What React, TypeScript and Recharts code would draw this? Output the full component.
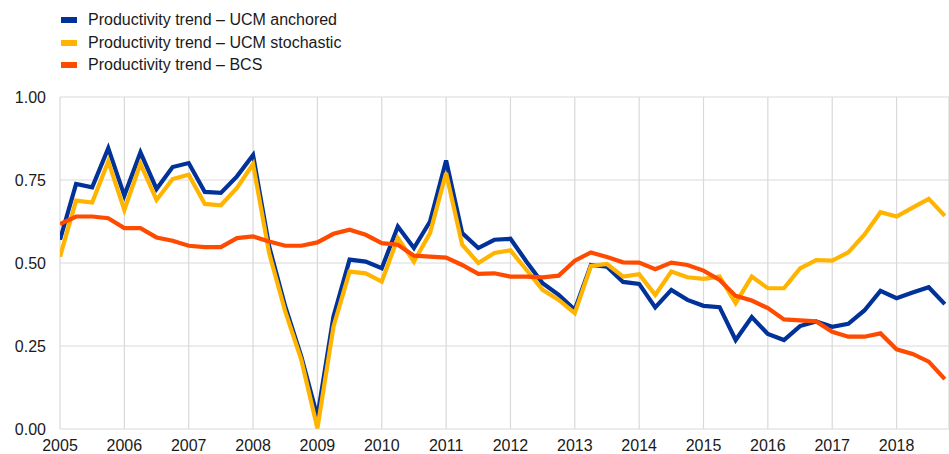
import { CartesianGrid, Line, LineChart, XAxis, YAxis } from "recharts";

const years = [2005, 2006, 2007, 2008, 2009, 2010, 2011, 2012, 2013, 2014, 2015, 2016, 2017, 2018];
const quarters = ["Q1", "Q2", "Q3", "Q4"];
const yTicks = [0, 0.25, 0.5, 0.75, 1];

const ucmAnchored = [
  0.57, 0.738, 0.728, 0.846, 0.703, 0.833, 0.723, 0.789, 0.801, 0.714, 0.711, 0.761,
  0.825, 0.55, 0.369, 0.218, 0.037, 0.339, 0.51, 0.504, 0.484, 0.61, 0.545, 0.625,
  0.809, 0.59, 0.545, 0.57, 0.573, 0.504, 0.439, 0.404, 0.359, 0.494, 0.489, 0.443,
  0.437, 0.366, 0.419, 0.389, 0.371, 0.367, 0.268, 0.337, 0.286, 0.268, 0.31, 0.324,
  0.308, 0.317, 0.357, 0.416, 0.394, 0.411, 0.427, 0.376,
];

const ucmStochastic = [
  0.519, 0.688, 0.682, 0.806, 0.66, 0.799, 0.69, 0.753, 0.766, 0.678, 0.674, 0.726,
  0.798, 0.53, 0.354, 0.208, 0.002, 0.308, 0.474, 0.469, 0.444, 0.575, 0.504, 0.59,
  0.771, 0.555, 0.5, 0.53, 0.538, 0.479, 0.419, 0.389, 0.349, 0.491, 0.497, 0.459,
  0.466, 0.404, 0.474, 0.457, 0.452, 0.459, 0.379, 0.459, 0.424, 0.424, 0.484, 0.509,
  0.507, 0.532, 0.585, 0.653, 0.64, 0.667, 0.693, 0.642,
];

const bcs = [
  0.617, 0.64, 0.64, 0.635, 0.605, 0.605, 0.577, 0.567, 0.552, 0.548, 0.548, 0.575,
  0.58, 0.565, 0.552, 0.552, 0.562, 0.588, 0.6, 0.585, 0.56, 0.555, 0.522, 0.519,
  0.516, 0.494, 0.467, 0.469, 0.459, 0.459, 0.457, 0.462, 0.507, 0.532, 0.518, 0.502,
  0.501, 0.481, 0.501, 0.494, 0.477, 0.449, 0.401, 0.387, 0.364, 0.33, 0.327, 0.324,
  0.293, 0.278, 0.278, 0.288, 0.24, 0.226, 0.203, 0.15,
];

const series = [
  { key: "anchored", name: "Productivity trend \u2013 UCM anchored", color: "#003299", values: ucmAnchored },
  { key: "stochastic", name: "Productivity trend \u2013 UCM stochastic", color: "#FFB400", values: ucmStochastic },
  { key: "bcs", name: "Productivity trend \u2013 BCS", color: "#FF4B00", values: bcs },
];

const data = years.flatMap((y, yi) =>
  quarters.map((q, qi) => {
    const i = yi * 4 + qi;
    const row: any = { label: `${y}${q}`, t: y + qi / 4 };
    series.forEach((s) => (row[s.key] = s.values[i]));
    return row;
  })
);

const font = "Arial, 'Liberation Sans', sans-serif";

export default function App() {
  return (
    <div style={{ position: "absolute", left: 0, top: 0, width: 949, height: 454, background: "#fff", fontFamily: font }}>
      <div style={{ position: "absolute", left: 61, top: 9 }}>
        {series.map((s) => (
          <div key={s.key} style={{ display: "flex", alignItems: "center", height: 22.5 }}>
            <span style={{ display: "inline-block", width: 16, height: 6, background: s.color, marginRight: 11 }} />
            <span style={{ fontSize: 16, color: "#1a1a1a" }}>{s.name}</span>
          </div>
        ))}
      </div>
      <LineChart width={949} height={454} data={data} margin={{ top: 97, right: 0, bottom: 0, left: 0 }}>
        <CartesianGrid stroke="#d9d9d9" strokeWidth={1.2} />
        <XAxis
          dataKey="t"
          type="number"
          domain={[2005, 2018.815]}
          allowDataOverflow
          ticks={years}
          interval={0}
          tickLine={false}
          axisLine={false}
          height={25}
          tickMargin={5}
          tick={{ fontSize: 16, fill: "#1a1a1a", fontFamily: font }}
        />
        <YAxis
          domain={[0, 1]}
          ticks={yTicks}
          width={60}
          tickLine={false}
          axisLine={false}
          tickMargin={8}
          tickFormatter={(v: number) => v.toFixed(2)}
          tick={{ fontSize: 16, fill: "#1a1a1a", fontFamily: font }}
        />
        {series.map((s) => (
          <Line
            key={s.key}
            dataKey={s.key}
            name={s.name}
            stroke={s.color}
            strokeWidth={4.2}
            dot={false}
            activeDot={false}
            isAnimationActive={false}
            type="linear"
          />
        ))}
      </LineChart>
    </div>
  );
}
